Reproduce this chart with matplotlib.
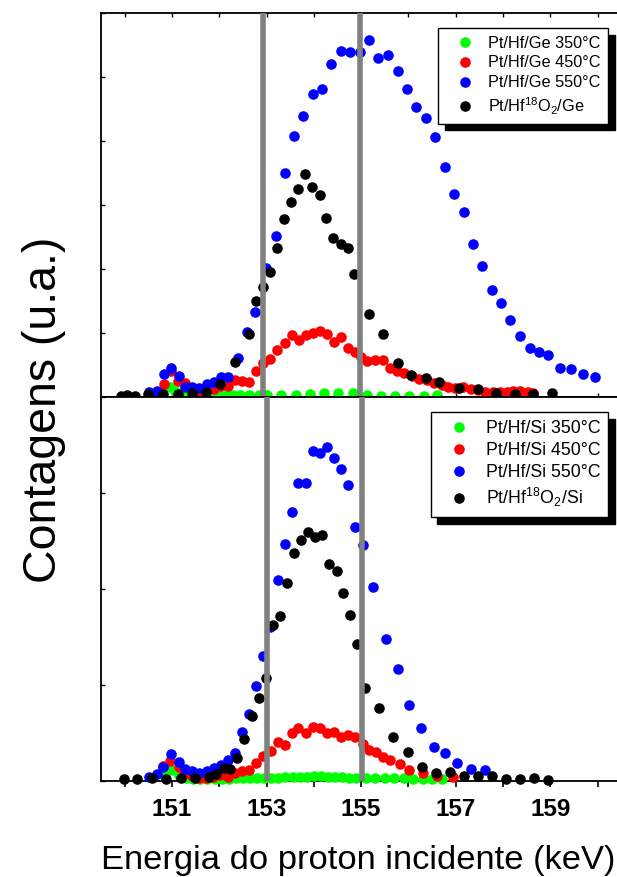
import numpy as np
import matplotlib
matplotlib.use('Agg')
import matplotlib.pyplot as plt

plt.rcParams['font.family'] = ['Liberation Sans', 'DejaVu Sans']
plt.rcParams['mathtext.fontset'] = 'custom'
plt.rcParams['mathtext.rm'] = 'Liberation Sans'

# ---- top panel: Pt/Hf/Ge (energy in keV, counts in a.u.) ----
ge350_e = [150.80, 150.96, 151.07, 151.24, 151.45, 151.62, 151.77, 151.98, 152.16, 152.30,
           152.44, 152.63, 152.83, 153.00, 153.31, 153.62, 153.92, 154.22, 154.52, 154.82,
           155.12, 155.41, 155.72, 156.01, 156.32, 156.61]
ge350_y = [3, 10.3, 6.3, 3.7, 2.7, 2.7, 2.7, 2.7, 2.5, 2.5,
           2, 2, 2, 2, 2, 2, 2.7, 3.7, 3.7, 3.7,
           2, 1, 1, 1, 1, 2]

ge450_e = [150.53, 150.68, 150.83, 150.98, 151.13, 151.28, 151.43, 151.58, 151.73, 151.88,
           152.03, 152.18, 152.33, 152.48, 152.63, 152.78, 152.92, 153.07, 153.22, 153.38,
           153.53, 153.69, 153.83, 153.98, 154.12, 154.27, 154.43, 154.58, 154.72, 154.86,
           155.00, 155.12, 155.29, 155.46, 155.61, 155.75, 155.91, 156.07, 156.23, 156.39,
           156.53, 156.70, 156.84, 156.98, 157.16, 157.32, 157.46, 157.62, 157.78, 157.94,
           158.08, 158.22, 158.36, 158.53, 158.64]
ge450_y = [2, 4, 13, 26, 16, 14, 7, 5, 6, 8,
           11, 11, 17, 16.3, 14.7, 26.3, 34.3, 37.7, 47, 53.7,
           61.7, 57, 61.7, 64.3, 66, 62.7, 55.3, 60.3, 49.3, 45.3,
           40, 36.3, 37, 37, 28.7, 26.3, 23.7, 21, 18.3, 17,
           14.3, 12, 9.7, 8.7, 9.7, 7.7, 7, 5.3, 4.7, 4.7,
           5.3, 6.3, 6.3, 5.3, 3.7]

ge550_e = [150.52, 150.68, 150.83, 150.98, 151.14, 151.28, 151.43, 151.58, 151.74, 151.88,
           152.03, 152.19, 152.39, 152.58, 152.76, 152.98, 153.19, 153.38, 153.58, 153.77,
           153.98, 154.18, 154.37, 154.57, 154.77, 154.98, 155.17, 155.36, 155.56, 155.77,
           155.97, 156.17, 156.37, 156.57, 156.77, 156.97, 157.17, 157.37, 157.56, 157.76,
           157.96, 158.15, 158.36, 158.56, 158.75, 158.95, 159.20, 159.44, 159.70, 159.94]
ge550_y = [5.3, 6.3, 22.7, 29.3, 21, 9.7, 9.7, 8.7, 13, 14.7,
           19.7, 19.7, 38.7, 65.3, 84.7, 128.7, 161.3, 223.7, 261, 281,
           303, 307.7, 333.3, 345.7, 344.7, 344.7, 356.7, 339.3, 342.3, 325.7,
           307.7, 290, 279, 260, 229.7, 203, 184.7, 153, 131, 107.3,
           94, 77.3, 61.3, 49, 45, 42, 28.7, 28.3, 23, 20.3]

geox_e = [149.92, 150.06, 150.22, 150.50, 150.82, 151.12, 151.42, 151.72, 152.02, 152.33,
          152.62, 152.77, 152.93, 153.07, 153.22, 153.37, 153.52, 153.67, 153.81, 153.96,
          154.12, 154.26, 154.41, 154.57, 154.72, 154.84, 155.16, 155.46, 155.77, 156.05,
          156.37, 156.65, 157.06, 157.46, 157.85, 158.25, 158.64, 159.04]
geox_y = [1, 2, 1, 2.7, 2.7, 3, 3.7, 5.3, 13, 35.3,
          62.7, 96.3, 110.3, 125.3, 148.7, 177.7, 195, 207.7, 223, 210.3,
          202, 179.3, 158.7, 153, 148.7, 123, 83.3, 63.3, 34.3, 22,
          18.7, 15.3, 8.7, 7.7, 3.7, 2.7, 2.7, 3.7]

# ---- bottom panel: Pt/Hf/Si ----
si350_e = [150.85, 151.00, 151.15, 151.30, 151.45, 151.60, 151.75, 151.90, 152.05, 152.20,
           152.35, 152.50, 152.65, 152.80, 152.95, 153.10, 153.25, 153.40, 153.55, 153.70,
           153.85, 154.00, 154.15, 154.30, 154.45, 154.60, 154.75, 154.90, 155.10, 155.30,
           155.50, 155.70, 155.90, 156.10, 156.30, 156.50, 156.70]
si350_y = [5, 11, 6, 3, 2, 2, 2, 2, 2, 2,
           2.5, 2.5, 2.5, 3, 3, 3, 3, 3.5, 3.5, 3.5,
           4, 4.5, 4.5, 4, 3.5, 3.5, 3, 3, 3, 3,
           2.5, 2.5, 2.5, 2, 2, 2, 2]

si450_e = [150.82, 150.96, 151.14, 151.28, 151.42, 151.57, 151.72, 151.86, 152.01, 152.19,
           152.33, 152.48, 152.63, 152.78, 152.93, 153.10, 153.24, 153.39, 153.53, 153.67,
           153.83, 153.98, 154.12, 154.27, 154.43, 154.57, 154.73, 154.87, 155.03, 155.17,
           155.31, 155.46, 155.61, 155.82, 156.01, 156.31, 156.61, 156.94]
si450_y = [15, 20, 14, 8, 5, 3, 3, 4, 5.5, 3.8,
           7.8, 9.8, 10.5, 17.8, 24.5, 29.5, 38.8, 35.5, 47.8, 52.2,
           47.8, 53.8, 52.2, 47.2, 48.8, 43.8, 45.5, 43.8, 36.5, 30.5,
           28.8, 23.8, 20.5, 16.5, 10.5, 7.8, 4.5, 3.2]

si550_e = [150.52, 150.68, 150.82, 150.98, 151.14, 151.28, 151.43, 151.58, 151.74, 151.88,
           152.03, 152.19, 152.33, 152.48, 152.63, 152.78, 152.93, 153.07, 153.24, 153.39,
           153.53, 153.67, 153.84, 153.98, 154.13, 154.27, 154.43, 154.58, 154.73, 154.87,
           155.03, 155.26, 155.52, 155.77, 156.02, 156.27, 156.53, 156.77, 157.02, 157.32,
           157.62]
si550_y = [3.8, 6.2, 13.2, 26.2, 18.8, 11.2, 9.8, 7.8, 9.8, 12.2,
           15.5, 20.5, 28, 48.8, 66.2, 94.5, 124.5, 153.8, 200.5, 236.2,
           268.8, 297.2, 297.8, 329.5, 327.8, 333.8, 322.2, 311.5, 295.8, 253.8,
           235.5, 193.5, 141.2, 111.2, 75.5, 52.8, 33.8, 27.8, 17.2, 11.2,
           10.5]

siox_e = [149.99, 150.27, 150.57, 150.87, 151.19, 151.49, 151.79, 151.93, 152.09, 152.23,
          152.38, 152.53, 152.69, 152.83, 152.99, 153.14, 153.29, 153.43, 153.57, 153.73,
          153.87, 154.03, 154.18, 154.33, 154.48, 154.62, 154.77, 154.91, 155.08, 155.38,
          155.67, 155.98, 156.28, 156.58, 156.88, 157.18, 157.46, 157.76, 158.06, 158.36,
          158.66, 158.94]
siox_y = [1.2, 1.2, 2.2, 1.2, 2.2, 2.2, 3.8, 6.2, 12.2, 11.2,
          22.2, 41.5, 64.8, 82.8, 102.8, 155.5, 164.5, 197.2, 227.8, 240.5,
          248.2, 243.8, 245.5, 216.2, 209.5, 187.8, 165.5, 136.2, 92.2, 72.8,
          43.2, 28.2, 13.2, 7.8, 8.8, 4.8, 4.8, 4.8, 1.2, 1.2,
          2.2, 0.2]

top_labels = ['Pt/Hf/Ge 350°C', 'Pt/Hf/Ge 450°C', 'Pt/Hf/Ge 550°C',
              r'Pt/Hf$^{\mathregular{18}}$O$_{\mathregular{2}}$/Ge']
bot_labels = ['Pt/Hf/Si 350°C', 'Pt/Hf/Si 450°C', 'Pt/Hf/Si 550°C',
              r'Pt/Hf$^{\mathregular{18}}$O$_{\mathregular{2}}$/Si']
colors = ['#00ff00', '#ff0000', '#0000ff', '#000000']

W, H = 617, 877
fig = plt.figure(figsize=(W / 100, H / 100), dpi=100)
left = 101 / W
width = (621.3 - 101) / W
ax_top = fig.add_axes([left, 1 - 397 / H, width, 384 / H])
ax_bot = fig.add_axes([left, 1 - 780.5 / H, width, 383.5 / H])

top_series = [(ge350_e, ge350_y), (ge450_e, ge450_y), (ge550_e, ge550_y), (geox_e, geox_y)]
bot_series = [(si350_e, si350_y), (si450_e, si450_y), (si550_e, si550_y), (siox_e, siox_y)]

for ax, series, labels, ymax, lines_at in [
        (ax_top, top_series, top_labels, 384, (152.92, 154.98)),
        (ax_bot, bot_series, bot_labels, 383.5, (153.0, 155.02))]:
    for (e, y), c, lab in zip(series, colors, labels):
        ax.plot(e, y, 'o', color=c, ms=7.6, mew=0, label=lab, clip_on=False, zorder=3)
    for xv in lines_at:
        ax.axvline(xv, color='#808080', lw=4.0, zorder=4)
    ax.set_xlim(149.5, 160.5)
    ax.set_ylim(0, ymax)
    ax.set_xticks([151, 153, 155, 157, 159])
    ax.set_xticks([150, 152, 154, 156, 158, 160], minor=True)
    ax.set_yticks(np.linspace(0, ymax, 7 if ax is ax_top else 5))
    ax.tick_params(axis='y', which='both', direction='in', length=3, width=1.0,
                   labelleft=False)
    for s in ax.spines.values():
        s.set_linewidth(1.3)
    ax.spines['right'].set_visible(False)

ax_top.tick_params(axis='x', which='both', direction='in', length=3, width=1.0,
                   top=True, bottom=True, labelbottom=False)
ax_bot.tick_params(axis='x', which='both', direction='out', length=4, width=1.2,
                   top=False, bottom=True, pad=8.5, labelsize=17.5)
for t in ax_bot.get_xticklabels():
    t.set_fontweight('bold')

leg_kw = dict(loc='upper right', bbox_transform=fig.transFigure, borderaxespad=0,
              frameon=True, fancybox=False, edgecolor='black', framealpha=1,
              borderpad=0.45, numpoints=1, markerscale=1.0,
              shadow={'ox': 4.7, 'oy': -4.7, 'color': 'black', 'alpha': 1})
leg1 = ax_top.legend(bbox_to_anchor=(608.3 / W, 1 - 28.3 / H), fontsize=11.7,
                     handlelength=2.4, handletextpad=0.25, labelspacing=0.3, **leg_kw)
leg2 = ax_bot.legend(bbox_to_anchor=(608.3 / W, 1 - 412.3 / H), fontsize=12.8,
                     handlelength=2.3, handletextpad=0.35, labelspacing=0.28, **leg_kw)
for leg in (leg1, leg2):
    leg.get_frame().set_linewidth(1.0)
    leg.set_zorder(10)

fig.text(44 / W, 1 - 410 / H, 'Contagens (u.a.)', rotation=90, fontsize=33.5,
         ha='center', va='center')
fig.text(358 / W, 1 - 869 / H, 'Energia do proton incidente (keV)', fontsize=24.8,
         ha='center', va='baseline')

fig.savefig('out.png', dpi=100)
